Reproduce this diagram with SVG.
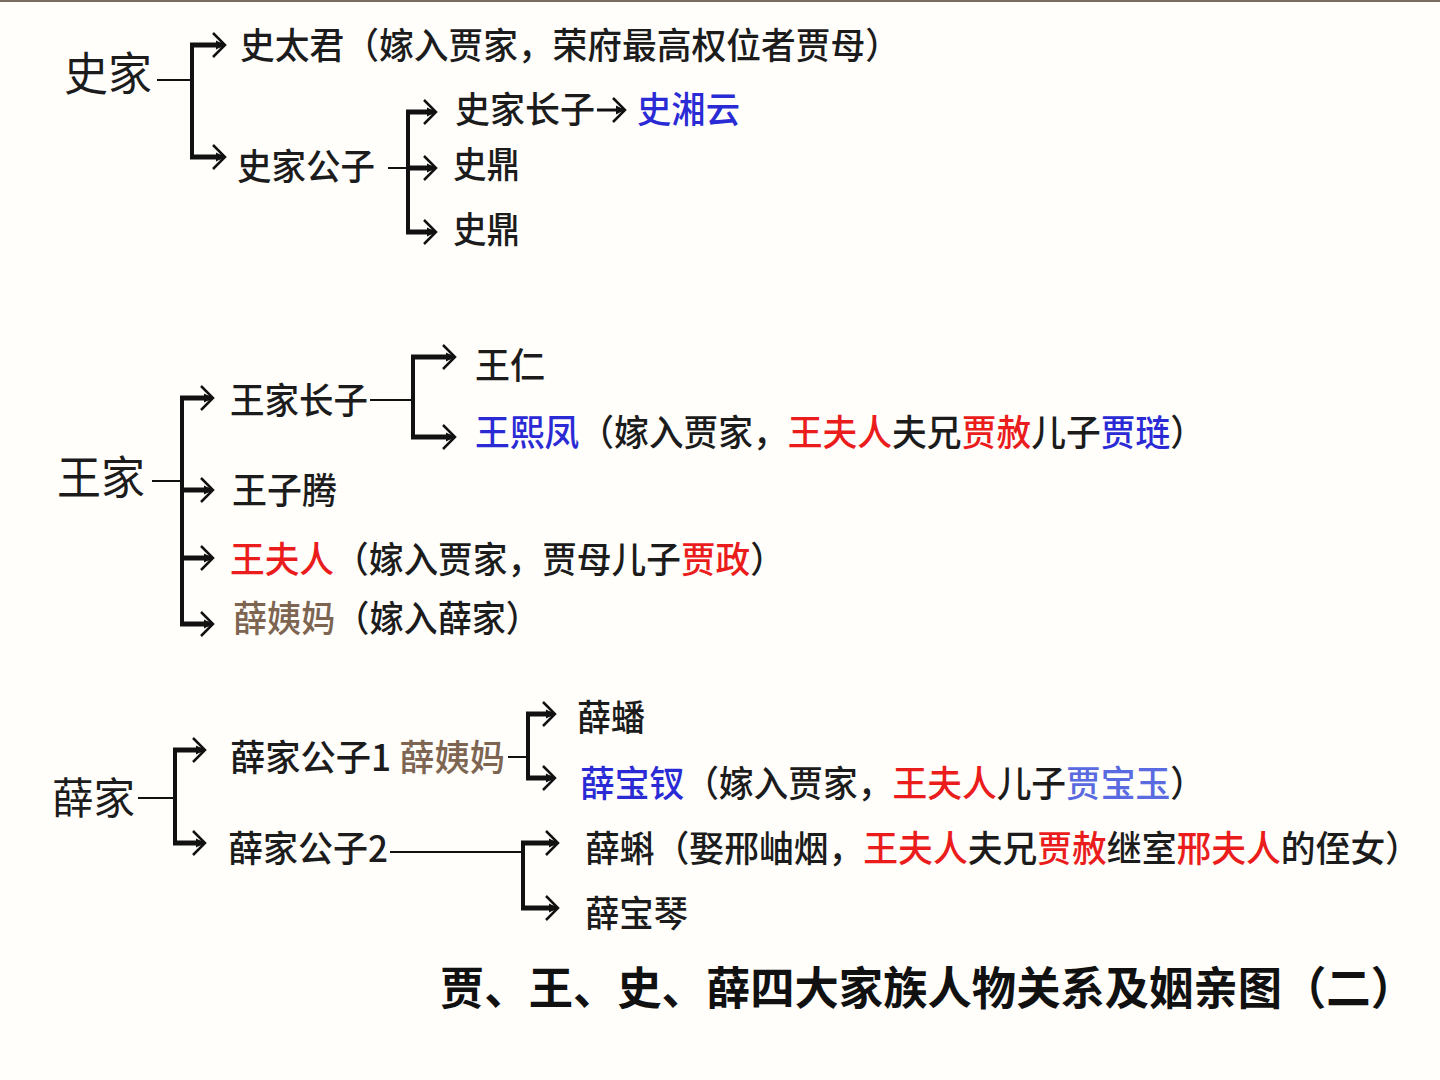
<svg xmlns="http://www.w3.org/2000/svg" width="1440" height="1080" viewBox="0 0 1440 1080">
<defs>
<style>
text{font-family:"Noto Sans CJK SC","Noto Sans",sans-serif;fill:#1c1c1c;font-size:36px;font-weight:500}
.fam{font-size:46px;font-weight:400}
.title{font-size:45px;font-weight:700;fill:#111}
.b{fill:#2b2bd6}
.lb{fill:#5a6ae0}
.r{fill:#ea1c1c}
.br{fill:#7d6552}
.stem{stroke:#111;stroke-width:2;fill:none}
.vert{stroke:#111;stroke-width:4;fill:none}
.arr{stroke:#111;stroke-width:5;fill:none;marker-end:url(#ah)}
.arr2{stroke:#111;stroke-width:3;fill:none;marker-end:url(#ah)}
</style>
<marker id="ah" viewBox="0 -13 15 26" markerWidth="15" markerHeight="26" markerUnits="userSpaceOnUse" refX="10" refY="0" orient="auto">
<path d="M1,-12 L13,0 L1,12" stroke="#111" stroke-width="2.5" fill="none"/>
<path d="M4,-4.5 L13,0 L4,4.5 Z" fill="#111"/>
</marker>
</defs>
<rect x="0" y="0" width="1440" height="1080" fill="#fffefb"/>
<rect x="0" y="0" width="1440" height="2" fill="#7a6e62"/>

<g id="connectors">
<line class="stem" x1="157" y1="80" x2="192" y2="80"/>
<line class="vert" x1="192" y1="45" x2="192" y2="157"/>
<line class="arr" x1="190" y1="45" x2="222" y2="45"/>
<line class="arr" x1="190" y1="157" x2="222" y2="157"/>
<line class="stem" x1="388" y1="168" x2="408" y2="168"/>
<line class="vert" x1="408" y1="112" x2="408" y2="232"/>
<line class="arr" x1="406" y1="112" x2="433" y2="112"/>
<line class="arr" x1="406" y1="168" x2="433" y2="168"/>
<line class="arr" x1="406" y1="232" x2="433" y2="232"/>
<line class="arr2" x1="597" y1="110" x2="622" y2="110"/>

<line class="stem" x1="152" y1="481" x2="182" y2="481"/>
<line class="vert" x1="182" y1="398" x2="182" y2="624"/>
<line class="arr" x1="180" y1="398" x2="210" y2="398"/>
<line class="arr" x1="180" y1="490" x2="210" y2="490"/>
<line class="arr" x1="180" y1="558" x2="210" y2="558"/>
<line class="arr" x1="180" y1="624" x2="210" y2="624"/>
<line class="stem" x1="370" y1="400" x2="413" y2="400"/>
<line class="vert" x1="413" y1="357" x2="413" y2="437"/>
<line class="arr" x1="411" y1="357" x2="452" y2="357"/>
<line class="arr" x1="411" y1="437" x2="452" y2="437"/>

<line class="stem" x1="138" y1="798" x2="175" y2="798"/>
<line class="vert" x1="175" y1="750" x2="175" y2="843"/>
<line class="arr" x1="173" y1="750" x2="202" y2="750"/>
<line class="arr" x1="173" y1="843" x2="202" y2="843"/>
<line class="stem" x1="508" y1="757" x2="528" y2="757"/>
<line class="vert" x1="528" y1="714" x2="528" y2="778"/>
<line class="arr" x1="526" y1="714" x2="552" y2="714"/>
<line class="arr" x1="526" y1="778" x2="552" y2="778"/>
<line class="stem" x1="390" y1="852" x2="523" y2="852"/>
<line class="vert" x1="523" y1="843" x2="523" y2="908"/>
<line class="arr" x1="521" y1="843" x2="555" y2="843"/>
<line class="arr" x1="521" y1="908" x2="555" y2="908"/>
</g>

<g id="shi-family"><text class="fam" x="64" y="90" textLength="88" lengthAdjust="spacingAndGlyphs">史家</text></g>
<g id="shi-taijun"><text x="240" y="59" textLength="660" lengthAdjust="spacingAndGlyphs">史太君（嫁入贾家，荣府最高权位者贾母）</text></g>
<g id="shi-gongzi"><text x="237" y="180" textLength="138" lengthAdjust="spacingAndGlyphs">史家公子</text></g>
<g id="shi-zhangzi"><text x="455" y="123" textLength="140" lengthAdjust="spacingAndGlyphs">史家长子</text></g>
<g id="shi-xiangyun"><text class="b" x="637" y="123" textLength="103" lengthAdjust="spacingAndGlyphs">史湘云</text></g>
<g id="shi-ding1"><text x="453" y="178" textLength="67" lengthAdjust="spacingAndGlyphs">史鼎</text></g>
<g id="shi-ding2"><text x="453" y="243" textLength="67" lengthAdjust="spacingAndGlyphs">史鼎</text></g>

<g id="wang-family"><text class="fam" x="57" y="494" textLength="88" lengthAdjust="spacingAndGlyphs">王家</text></g>
<g id="wang-zhangzi"><text x="230" y="414" textLength="138" lengthAdjust="spacingAndGlyphs">王家长子</text></g>
<g id="wang-ren"><text x="475" y="379" textLength="70" lengthAdjust="spacingAndGlyphs">王仁</text></g>
<g id="wang-xifeng"><text x="475" y="446" textLength="730" lengthAdjust="spacingAndGlyphs"><tspan class="b">王熙凤</tspan>（嫁入贾家，<tspan class="r">王夫人</tspan>夫兄<tspan class="r">贾赦</tspan>儿子<tspan class="b">贾琏</tspan>）</text></g>
<g id="wang-ziteng"><text x="232" y="504" textLength="105" lengthAdjust="spacingAndGlyphs">王子腾</text></g>
<g id="wang-furen"><text x="230" y="573" textLength="555" lengthAdjust="spacingAndGlyphs"><tspan class="r">王夫人</tspan>（嫁入贾家，贾母儿子<tspan class="r">贾政</tspan>）</text></g>
<g id="xue-yima"><text x="233" y="632" textLength="307" lengthAdjust="spacingAndGlyphs"><tspan class="br">薛姨妈</tspan>（嫁入薛家）</text></g>

<g id="xue-family"><text class="fam" x="52" y="814" style="font-size:43px" textLength="83" lengthAdjust="spacingAndGlyphs">薛家</text></g>
<g id="xue-gongzi1"><text x="230" y="771" textLength="275" lengthAdjust="spacingAndGlyphs">薛家公子1 <tspan class="br">薛姨妈</tspan></text></g>
<g id="xue-pan"><text x="577" y="731" textLength="68" lengthAdjust="spacingAndGlyphs">薛蟠</text></g>
<g id="xue-baochai"><text x="580" y="797" textLength="625" lengthAdjust="spacingAndGlyphs"><tspan class="b">薛宝钗</tspan>（嫁入贾家，<tspan class="r">王夫人</tspan>儿子<tspan class="lb">贾宝玉</tspan>）</text></g>
<g id="xue-gongzi2"><text x="228" y="862" textLength="160" lengthAdjust="spacingAndGlyphs">薛家公子2</text></g>
<g id="xue-ke"><text x="585" y="862" textLength="835" lengthAdjust="spacingAndGlyphs">薛蝌（娶邢岫烟，<tspan class="r">王夫人</tspan>夫兄<tspan class="r">贾赦</tspan>继室<tspan class="r">邢夫人</tspan>的侄女）</text></g>
<g id="xue-baoqin"><text x="585" y="927" textLength="103" lengthAdjust="spacingAndGlyphs">薛宝琴</text></g>

<g id="title"><text class="title" x="440" y="1005" textLength="975" lengthAdjust="spacingAndGlyphs">贾、王、史、薛四大家族人物关系及姻亲图（二）</text></g>
</svg>
